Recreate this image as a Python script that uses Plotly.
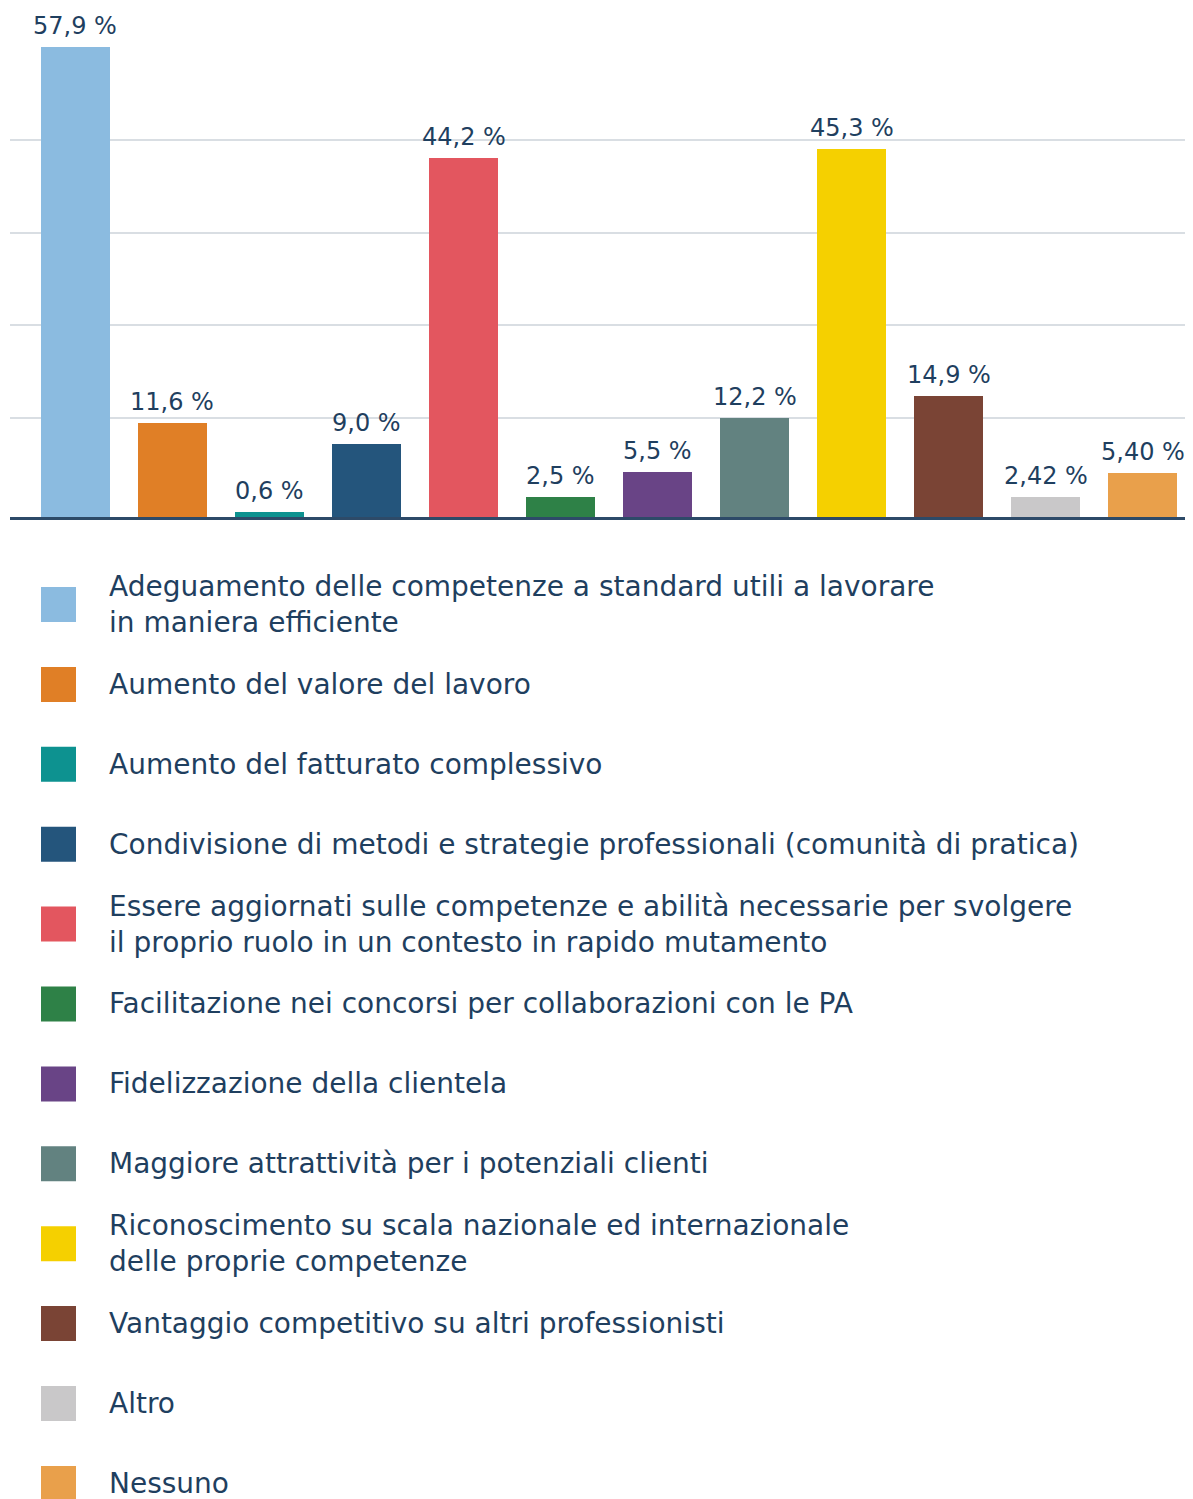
import plotly.graph_objects as go

# ---- data ----
categories = [
    "Adeguamento delle competenze a standard utili a lavorare<br>in maniera efficiente",
    "Aumento del valore del lavoro",
    "Aumento del fatturato complessivo",
    "Condivisione di metodi e strategie professionali (comunità di pratica)",
    "Essere aggiornati sulle competenze e abilità necessarie per svolgere<br>il proprio ruolo in un contesto in rapido mutamento",
    "Facilitazione nei concorsi per collaborazioni con le PA",
    "Fidelizzazione della clientela",
    "Maggiore attrattività per i potenziali clienti",
    "Riconoscimento su scala nazionale ed internazionale<br>delle proprie competenze",
    "Vantaggio competitivo su altri professionisti",
    "Altro",
    "Nessuno",
]
values = [57.9, 11.6, 0.6, 9.0, 44.2, 2.5, 5.5, 12.2, 45.3, 14.9, 2.42, 5.40]
value_labels = ["57,9 %", "11,6 %", "0,6 %", "9,0 %", "44,2 %", "2,5 %", "5,5 %",
                "12,2 %", "45,3 %", "14,9 %", "2,42 %", "5,40 %"]
colors = ["#8bbbe0", "#e07f26", "#0d9290", "#24557c", "#e3565f", "#2e8147",
          "#694486", "#628280", "#f5d000", "#7a4435", "#c9c8c9", "#e9a04b"]
grid_values = [12.2, 23.6, 35.0, 46.4]

# ---- layout constants ----
OFF = 8  # page body margin
W, H = 1193 - OFF, 1499 - OFF
FONT = "DejaVu Sans"
TXT = "#1f3f5f"
plot_bottom_px = 517 - OFF
px_per_unit = 8.12

x_idx = list(range(len(values)))

fig = go.Figure()
fig.add_trace(go.Bar(
    x=x_idx, y=values, marker=dict(color=colors, line=dict(width=0)),
    width=0.71, showlegend=False, hoverinfo="skip",
))

# value labels above bars
for xi, v, lab in zip(x_idx, values, value_labels):
    fig.add_annotation(x=xi, y=v, xref="x", yref="y", text=lab, showarrow=False,
                       xanchor="center", yanchor="bottom", yshift=5,
                       font=dict(family=FONT, size=24, color=TXT))

fig.update_layout(
    width=W, height=H,
    margin=dict(l=0, r=0, t=0, b=0, autoexpand=False),
    paper_bgcolor="white", plot_bgcolor="white",
    font=dict(family=FONT, color=TXT),
    bargap=0,
    xaxis=dict(domain=[(10 - OFF) / W, 1.0], range=[-0.675, 11.52],
               showticklabels=False, showgrid=False, zeroline=False,
               showline=True, linecolor="#2d4a68", linewidth=2.5, ticks=""),
    yaxis=dict(domain=[(H - plot_bottom_px) / H, 1.0],
               range=[0, plot_bottom_px / px_per_unit],
               tickvals=grid_values, showticklabels=False,
               showgrid=True, gridcolor="#d9dee3", gridwidth=2,
               zeroline=False, showline=False),
)

# ---- custom legend ----
first_center = 604.5 - OFF
step = 79.9
sq = 35
for i, (name, col) in enumerate(zip(categories, colors)):
    cy = first_center + step * i
    fig.add_shape(type="rect", xref="paper", yref="paper",
                  x0=(41 - OFF) / W, x1=(41 - OFF + sq) / W,
                  y0=(H - (cy + sq / 2)) / H, y1=(H - (cy - sq / 2)) / H,
                  fillcolor=col, line=dict(width=0))
    fig.add_annotation(x=(107 - OFF) / W, y=(H - cy) / H, xref="paper", yref="paper",
                       xanchor="left", yanchor="middle", align="left",
                       text=name, showarrow=False,
                       font=dict(family=FONT, size=28, color=TXT))

fig.write_html("out.html")
